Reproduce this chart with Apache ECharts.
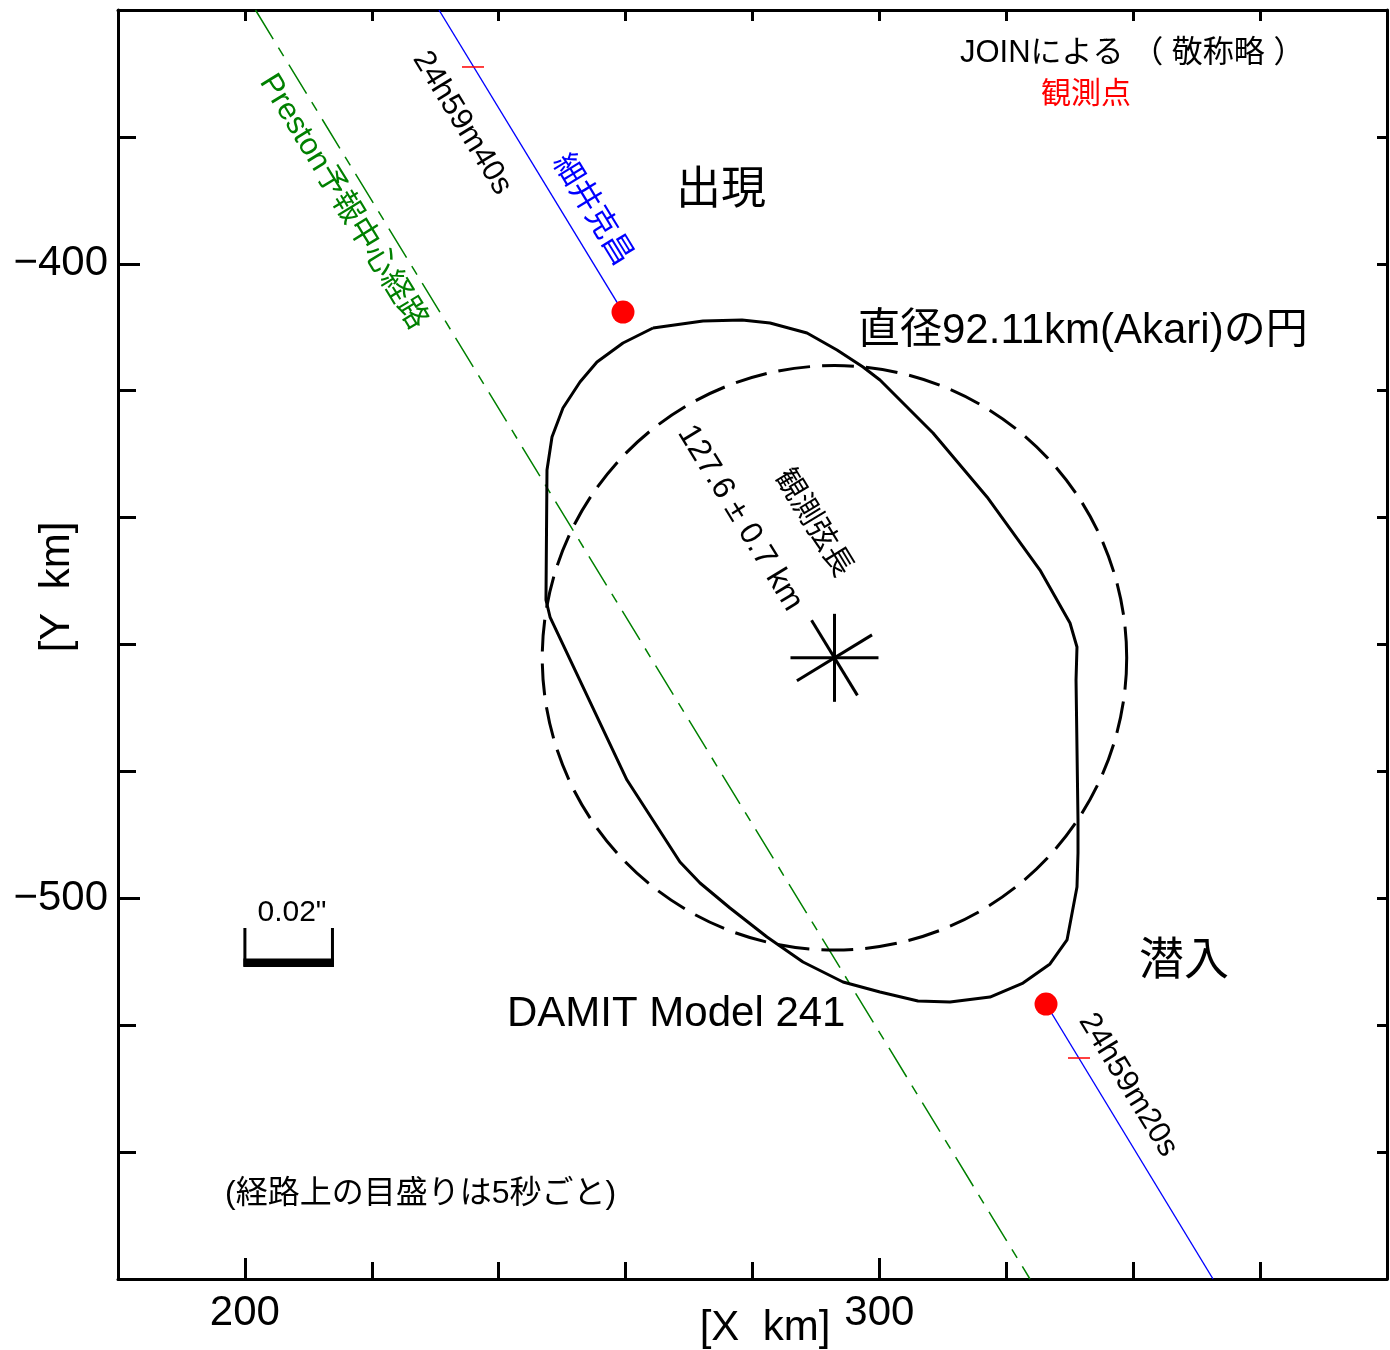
<!DOCTYPE html>
<html><head><meta charset="utf-8">
<script src="https://cdn.jsdelivr.net/npm/echarts@6/dist/echarts.min.js"></script>
<style>html,body{margin:0;padding:0;background:#fff}#c{width:1390px;height:1350px}</style>
</head><body><div id="c"></div>
<script>
// ---- data (km) ----
const xRange = [180, 380];
const yRange = [-560, -360];
const xTickLabels = [200, 300];
const yTickLabels = [-400, -500];

// DAMIT model 241 outline
const damitOutline = [
  [264.32,-410.12],[272.20,-409.01],[278.35,-408.86],[282.76,-409.33],[288.59,-410.91],
  [293.32,-413.59],[297.42,-416.26],[300.09,-418.31],[308.45,-426.67],[316.96,-436.75],
  [325.31,-448.26],[330.04,-456.61],[331.14,-460.39],[330.99,-465.60],[331.30,-487.66],
  [331.30,-492.86],[331.14,-498.22],[329.57,-506.57],[326.89,-510.35],[322.63,-513.35],
  [317.43,-515.56],[311.13,-516.34],[306.08,-516.19],[300.09,-514.77],[294.26,-513.19],
  [287.96,-510.04],[282.29,-506.10],[276.45,-501.53],[271.73,-497.59],[268.57,-494.28],
  [260.22,-481.36],[248.09,-455.67],[247.45,-452.99],[247.61,-432.50],[248.40,-427.30],
  [250.13,-422.73],[252.81,-418.63],[255.49,-415.48],[259.59,-412.48],[264.32,-410.12]
];
const akariCenter = [292.92, -462.1];
const akariDiameter = 92.11;
const prestonPath = [[201.67,-360],[323.73,-560]];
const hosoiTrackTop = [[230.59,-360],[259.59,-407.60]];
const hosoiTrackBottom = [[326.26,-516.66],[352.58,-560]];
const eventPoints = [[259.59,-407.60],[326.26,-516.66]]; // 出現, 潜入
const timeMarks = [[235.95,-368.98],[331.46,-525.17]];
const timeMarkLabels = ['24h59m40s','24h59m20s'];
const scaleBar = [200, 213.8, -510.1, -504.7]; // x0, x1, yBar, yTop  (0.02")

const FONT = '"Liberation Sans","Noto Sans CJK JP",sans-serif';
const chart = echarts.init(document.getElementById('c'), null, {renderer:'canvas'});
const ax = '#000';

function xAxisBase(extra){
  return Object.assign({type:'value', min:xRange[0], max:xRange[1], splitLine:{show:false},
    axisLine:{show:true,onZero:false,lineStyle:{color:ax,width:3}}, axisLabel:{show:false}}, extra);
}
function yAxisBase(extra){
  return Object.assign({type:'value', min:yRange[0], max:yRange[1], splitLine:{show:false},
    axisLine:{show:true,onZero:false,lineStyle:{color:ax,width:3}}, axisLabel:{show:false}}, extra);
}
const minus = v => (v < 0 ? '\u2212' + Math.abs(v) : String(v));

function txt(text, x, y, size, color, rotDeg, align){
  return {type:'text', x:x, y:y, rotation:(rotDeg||0)*Math.PI/180, z:100,
    style:{text:text, x:0, y:0, font: size+'px '+FONT, fill:color||'#000',
      align: align||'center', textAlign: align||'center', verticalAlign:'middle', textVerticalAlign:'middle'}};
}
const PATH_ROT = -58.5;

const option = {
  animation:false,
  backgroundColor:'#fff',
  grid:{left:118, top:10, width:1269, height:1269, containLabel:false},
  xAxis:[
    xAxisBase({position:'bottom', interval:20,
      axisTick:{show:true,inside:true,length:17,lineStyle:{color:ax,width:3}},
      axisLabel:{show:true,margin:13,fontSize:42,color:'#000',fontFamily:FONT,
        formatter:v=> xTickLabels.indexOf(Math.round(v))>=0 ? String(Math.round(v)) : ''}}),
    xAxisBase({position:'bottom', axisLine:{show:false},
      axisTick:{show:true,inside:true,length:21,customValues:xTickLabels,lineStyle:{color:ax,width:3}}}),
    xAxisBase({position:'top', interval:20,
      axisTick:{show:true,inside:true,length:11,lineStyle:{color:ax,width:3}}})
  ],
  yAxis:[
    yAxisBase({position:'left', interval:20,
      axisTick:{show:true,inside:true,length:18,lineStyle:{color:ax,width:3}},
      axisLabel:{show:true,margin:10,fontSize:42,color:'#000',fontFamily:FONT,
        formatter:v=> yTickLabels.indexOf(Math.round(v))>=0 ? minus(Math.round(v)) : ''}}),
    yAxisBase({position:'left', axisLine:{show:false},
      axisTick:{show:true,inside:true,length:22,customValues:yTickLabels,lineStyle:{color:ax,width:3}}}),
    yAxisBase({position:'right', interval:20,
      axisTick:{show:true,inside:true,length:10,lineStyle:{color:ax,width:3}}})
  ],
  series:[
    {name:'Preston', type:'line', data:prestonPath, symbol:'none', silent:true,
      lineStyle:{color:'#008000', width:1.5, type:[34,10,10,10]}, z:2},
    {name:'hosoiTop', type:'line', data:hosoiTrackTop, symbol:'none', silent:true,
      lineStyle:{color:'#0000ff', width:1.4}, z:3},
    {name:'hosoiBottom', type:'line', data:hosoiTrackBottom, symbol:'none', silent:true,
      lineStyle:{color:'#0000ff', width:1.4}, z:3},
    {name:'DAMIT', type:'line', data:damitOutline, symbol:'none', silent:true,
      lineStyle:{color:'#000', width:3, join:'round'}, z:4},
    {name:'Akari', type:'custom', silent:true, z:4,
      data:[[akariCenter[0], akariCenter[1], akariDiameter]],
      renderItem:(params, api)=>{
        const c = api.coord([api.value(0), api.value(1)]);
        const r = api.size([api.value(2)/2, 0])[0];
        return {type:'circle', shape:{cx:c[0], cy:c[1], r:r},
          style:{fill:'none', stroke:'#000', lineWidth:3, lineDash:[32,12]}};
      }},
    {name:'center', type:'custom', silent:true, z:5,
      data:[akariCenter],
      renderItem:(params, api)=>{
        const c = api.coord([api.value(0), api.value(1)]);
        const p1 = api.coord(eventPoints[0]), p2 = api.coord(eventPoints[1]);
        const a = Math.atan2(p2[1]-p1[1], p2[0]-p1[0]);
        const L = 44;
        const angs = [0, Math.PI/2, a, a+Math.PI/2];
        return {type:'group', children: angs.map(t=>({type:'line',
          shape:{x1:c[0]-L*Math.cos(t), y1:c[1]-L*Math.sin(t), x2:c[0]+L*Math.cos(t), y2:c[1]+L*Math.sin(t)},
          style:{stroke:'#000', lineWidth:3}}))};
      }},
    {name:'marks', type:'custom', silent:true, z:6,
      data:timeMarks,
      renderItem:(params, api)=>{
        const c = api.coord([api.value(0), api.value(1)]);
        return {type:'line', shape:{x1:c[0]-11, y1:c[1], x2:c[0]+11, y2:c[1]},
          style:{stroke:'#ff0000', lineWidth:1.5}};
      }},
    {name:'events', type:'scatter', data:eventPoints, symbol:'circle', symbolSize:23, silent:true,
      itemStyle:{color:'#ff0000', opacity:1}, z:7},
    {name:'scale', type:'custom', silent:true, z:6,
      data:[scaleBar],
      renderItem:(params, api)=>{
        const a = api.coord([api.value(0), api.value(2)]);
        const b = api.coord([api.value(1), api.value(2)]);
        const at = api.coord([api.value(0), api.value(3)]);
        const bt = api.coord([api.value(1), api.value(3)]);
        return {type:'group', children:[
          {type:'polyline', shape:{points:[at, [a[0], a[1]+3], [b[0], b[1]+3], bt]},
            style:{stroke:'#000', lineWidth:3, fill:'none'}},
          {type:'line', shape:{x1:a[0]-1.5, y1:a[1], x2:b[0]+1.5, y2:b[1]},
            style:{stroke:'#000', lineWidth:8}}
        ]};
      }}
  ],
  graphic:[
    txt('JOINによる （ 敬称略 ）', 960, 53, 31, '#000', 0, 'left'),
    txt('観測点', 1086, 95, 30, '#ff0000'),
    txt('出現', 721, 192, 45, '#000'),
    txt('直径92.11km(Akari)の円', 858, 331, 42, '#000', 0, 'left'),
    txt('127.6 ± 0.7 km', 740, 518, 32, '#000', PATH_ROT),
    txt('観測弦長', 813, 523, 30, '#000', PATH_ROT),
    txt('DAMIT Model 241', 507, 1014, 42, '#000', 0, 'left'),
    txt('潜入', 1184, 963, 45, '#000'),
    txt(timeMarkLabels[1], 1128, 1085, 31, '#000', PATH_ROT),
    txt(timeMarkLabels[0], 462, 123, 31, '#000', PATH_ROT),
    txt('細井克昌', 592, 210, 31, '#0000ff', PATH_ROT),
    txt('Preston予報中心経路', 343, 202, 31, '#008000', PATH_ROT),
    txt('(経路上の目盛りは5秒ごと)', 225, 1194, 32, '#000', 0, 'left'),
    txt('0.02"', 292, 913, 30, '#000'),
    txt('[X  km]', 765, 1328, 42, '#000'),
    txt('[Y  km]', 57, 587, 42, '#000', 90)
  ]
};
chart.setOption(option);
</script>
</body></html>
